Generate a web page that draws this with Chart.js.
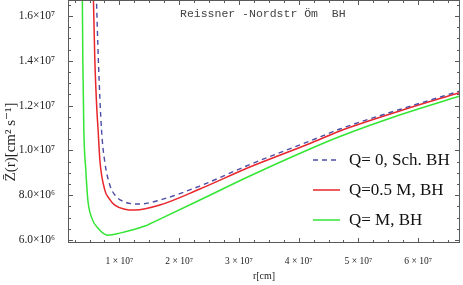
<!DOCTYPE html>
<html lang="en">
<head>
  <meta charset="UTF-8">
  <title>Reissner-Nordström BH</title>
  <style>
    body {
      margin: 0;
      background: #fff;
    }

    #wrap {
      position: relative;
      width: 463px;
      height: 285px;
    }

    #chart {
      display: block;
    }

    #legend {
      position: absolute;
      left: 313px;
      top: 145px;
      font-family: 'Liberation Serif', 'DejaVu Serif', serif;
      font-size: 17px;
      color: #111;
    }

    .row {
      display: flex;
      align-items: center;
      height: 30px;
      white-space: nowrap;
    }

    .row svg {
      margin-right: 9px;
    }
  </style>
</head>
<body>
  <div id="wrap">
    <canvas id="chart" width="463" height="285"></canvas>
    <div id="legend"></div>
  </div>

  <script src="https://cdn.jsdelivr.net/npm/chart.js"></script>
  <script>
    // values (r in cm, Z in cm^2 s^-1)
    const rSch = [6.14e6, 6.48e6, 7.01e6, 7.56e6, 8.40e6, 9.24e6, 1.091e7, 1.342e7, 1.677e7, 2.346e7, 3.183e7, 4.188e7, 4.69e7, 5.69e7, 6.70e7];
    const zSch = [1.694e7, 1.404e7, 1.091e7, 9.48e6, 8.455e6, 8.01e6, 7.70e6, 7.61e6, 7.786e6, 8.411e6, 9.37e6, 1.042e7, 1.0955e7, 1.1826e7, 1.2652e7];

    const rHalf = [5.64e6, 5.89e6, 6.23e6, 6.44e6, 6.73e6, 7.56e6, 8.23e6, 9.24e6, 1.091e7, 1.259e7, 1.677e7, 2.346e7, 3.183e7, 4.188e7, 4.69e7, 5.69e7, 6.70e7];
    const zHalf = [1.694e7, 1.404e7, 1.18e7, 1.091e7, 9.57e6, 8.23e6, 7.875e6, 7.5625e6, 7.38e6, 7.34e6, 7.5625e6, 8.277e6, 9.259e6, 1.0308e7, 1.0866e7, 1.1759e7, 1.2585e7];

    const rFull = [3.80e6, 3.88e6, 4.05e6, 4.38e6, 4.72e6, 5.39e6, 6.39e6, 8.07e6, 1.008e7, 1.426e7, 1.677e7, 2.346e7, 3.183e7, 4.188e7, 4.69e7, 5.69e7, 6.70e7];
    const zFull = [1.694e7, 1.404e7, 1.091e7, 9.125e6, 7.79e6, 6.98e6, 6.54e6, 6.22e6, 6.31e6, 6.625e6, 6.9375e6, 7.786e6, 8.857e6, 1.0063e7, 1.0621e7, 1.158e7, 1.243e7];

    const seriesNames = ['Q= 0, Sch. BH', 'Q=0.5 M, BH', 'Q= M, BH'];
    const seriesColors = ['#4d4da6', '#e8262b', '#33e633'];

    const xTickValues = [1e7, 2e7, 3e7, 4e7, 5e7, 6e7];
    const xTickLabels = ['1 × 10⁷', '2 × 10⁷', '3 × 10⁷', '4 × 10⁷', '5 × 10⁷', '6 × 10⁷'];
    const yTickValues = [6e6, 8e6, 1e7, 1.2e7, 1.4e7, 1.6e7];
    const yTickLabels = ['6.0×10⁶', '8.0×10⁶', '1.0×10⁷', '1.2×10⁷', '1.4×10⁷', '1.6×10⁷'];

    const titleText = 'Reissner -Nordstr Öm  BH';
    const xTitle = 'r[cm]';
    const yTitle = 'Z̄(r)[cm² s⁻¹]';

    const serif = "'Liberation Serif', 'DejaVu Serif', serif";

    function pts(rs, zs) {
      return rs.map((r, i) => ({x: r, y: zs[i]}));
    }

    // inward ticks (4 minor per major) on all four sides, frame, title and y label
    const framePlugin = {
      id: 'frame',
      afterDraw(chart) {
        const {ctx, chartArea: a, scales: {x, y}} = chart;
        ctx.save();
        ctx.strokeStyle = '#5a5a5a';
        ctx.lineWidth = 1;
        ctx.strokeRect(a.left + 0.5, a.top + 0.5, a.right - a.left - 1, a.bottom - a.top - 1);

        ctx.beginPath();
        const xStep = 2.5e6;
        for (let k = Math.ceil(x.min / xStep); k * xStep <= x.max; k++) {
          const len = k % 4 === 0 ? 5 : 3;
          const px = Math.round(x.getPixelForValue(k * xStep)) + 0.5;
          ctx.moveTo(px, a.bottom); ctx.lineTo(px, a.bottom - len);
          ctx.moveTo(px, a.top); ctx.lineTo(px, a.top + len);
        }
        const yStep = 5e5;
        for (let k = Math.ceil(y.min / yStep); k * yStep <= y.max; k++) {
          const len = k % 4 === 0 ? 5 : 3;
          const py = Math.round(y.getPixelForValue(k * yStep)) + 0.5;
          ctx.moveTo(a.left, py); ctx.lineTo(a.left + len, py);
          ctx.moveTo(a.right, py); ctx.lineTo(a.right - len, py);
        }
        ctx.stroke();

        ctx.fillStyle = '#444';
        ctx.font = "11.5px 'Liberation Mono', monospace";
        ctx.textBaseline = 'middle';
        ctx.fillText(titleText, 180, 14);

        ctx.translate(11, 142);
        ctx.rotate(-Math.PI / 2);
        ctx.textAlign = 'center';
        ctx.fillStyle = '#222';
        ctx.font = '15px ' + serif;
        ctx.fillText(yTitle, 0, 0);
        ctx.restore();
      }
    };

    const chart = new Chart(document.getElementById('chart'), {
      type: 'line',
      data: {
        datasets: [
          {label: seriesNames[0], data: pts(rSch, zSch), borderColor: seriesColors[0], borderWidth: 1.4, borderDash: [5, 4]},
          {label: seriesNames[1], data: pts(rHalf, zHalf), borderColor: seriesColors[1], borderWidth: 1.5},
          {label: seriesNames[2], data: pts(rFull, zFull), borderColor: seriesColors[2], borderWidth: 1.5}
        ]
      },
      options: {
        responsive: false,
        animation: false,
        layout: {padding: {top: 0, right: 3, left: 0, bottom: 0}},
        elements: {
          point: {radius: 0},
          line: {cubicInterpolationMode: 'monotone', fill: false}
        },
        plugins: {
          legend: {display: false},
          tooltip: {enabled: false}
        },
        scales: {
          x: {
            type: 'linear',
            min: 1.4e6,
            max: 6.7e7,
            grid: {display: false},
            border: {display: false},
            afterBuildTicks: s => { s.ticks = xTickValues.map(v => ({value: v})); },
            ticks: {
              autoSkip: false,
              maxRotation: 0,
              padding: 5,
              color: '#222',
              font: {family: serif, size: 9.5},
              callback: (v, i) => xTickLabels[i]
            },
            title: {
              display: true,
              text: xTitle,
              color: '#222',
              font: {family: serif, size: 10},
              padding: {top: 0, bottom: 3}
            },
            afterFit: s => { s.height = 42; s.paddingLeft = 0; s.paddingRight = 0; }
          },
          y: {
            min: 5.87e6,
            max: 1.671e7,
            grid: {display: false},
            border: {display: false},
            afterBuildTicks: s => { s.ticks = yTickValues.map(v => ({value: v})); },
            ticks: {
              autoSkip: false,
              padding: 5,
              color: '#222',
              font: {family: serif, size: 11.5},
              callback: (v, i) => yTickLabels[i]
            },
            afterFit: s => { s.width = 68; s.paddingTop = 0; s.paddingBottom = 0; }
          }
        }
      },
      plugins: [framePlugin]
    });

    // legend inside the plot, built from the datasets
    const legend = document.getElementById('legend');
    chart.data.datasets.forEach(ds => {
      const row = document.createElement('div');
      row.className = 'row';
      const dash = ds.borderDash ? ` stroke-dasharray="${ds.borderDash.join(' ')}"` : '';
      row.innerHTML = `<svg width="27" height="4"><line x1="0" y1="2" x2="27" y2="2" stroke="${ds.borderColor}" stroke-width="${ds.borderWidth}"${dash}/></svg><span>${ds.label}</span>`;
      legend.appendChild(row);
    });
  </script>
</body>
</html>
